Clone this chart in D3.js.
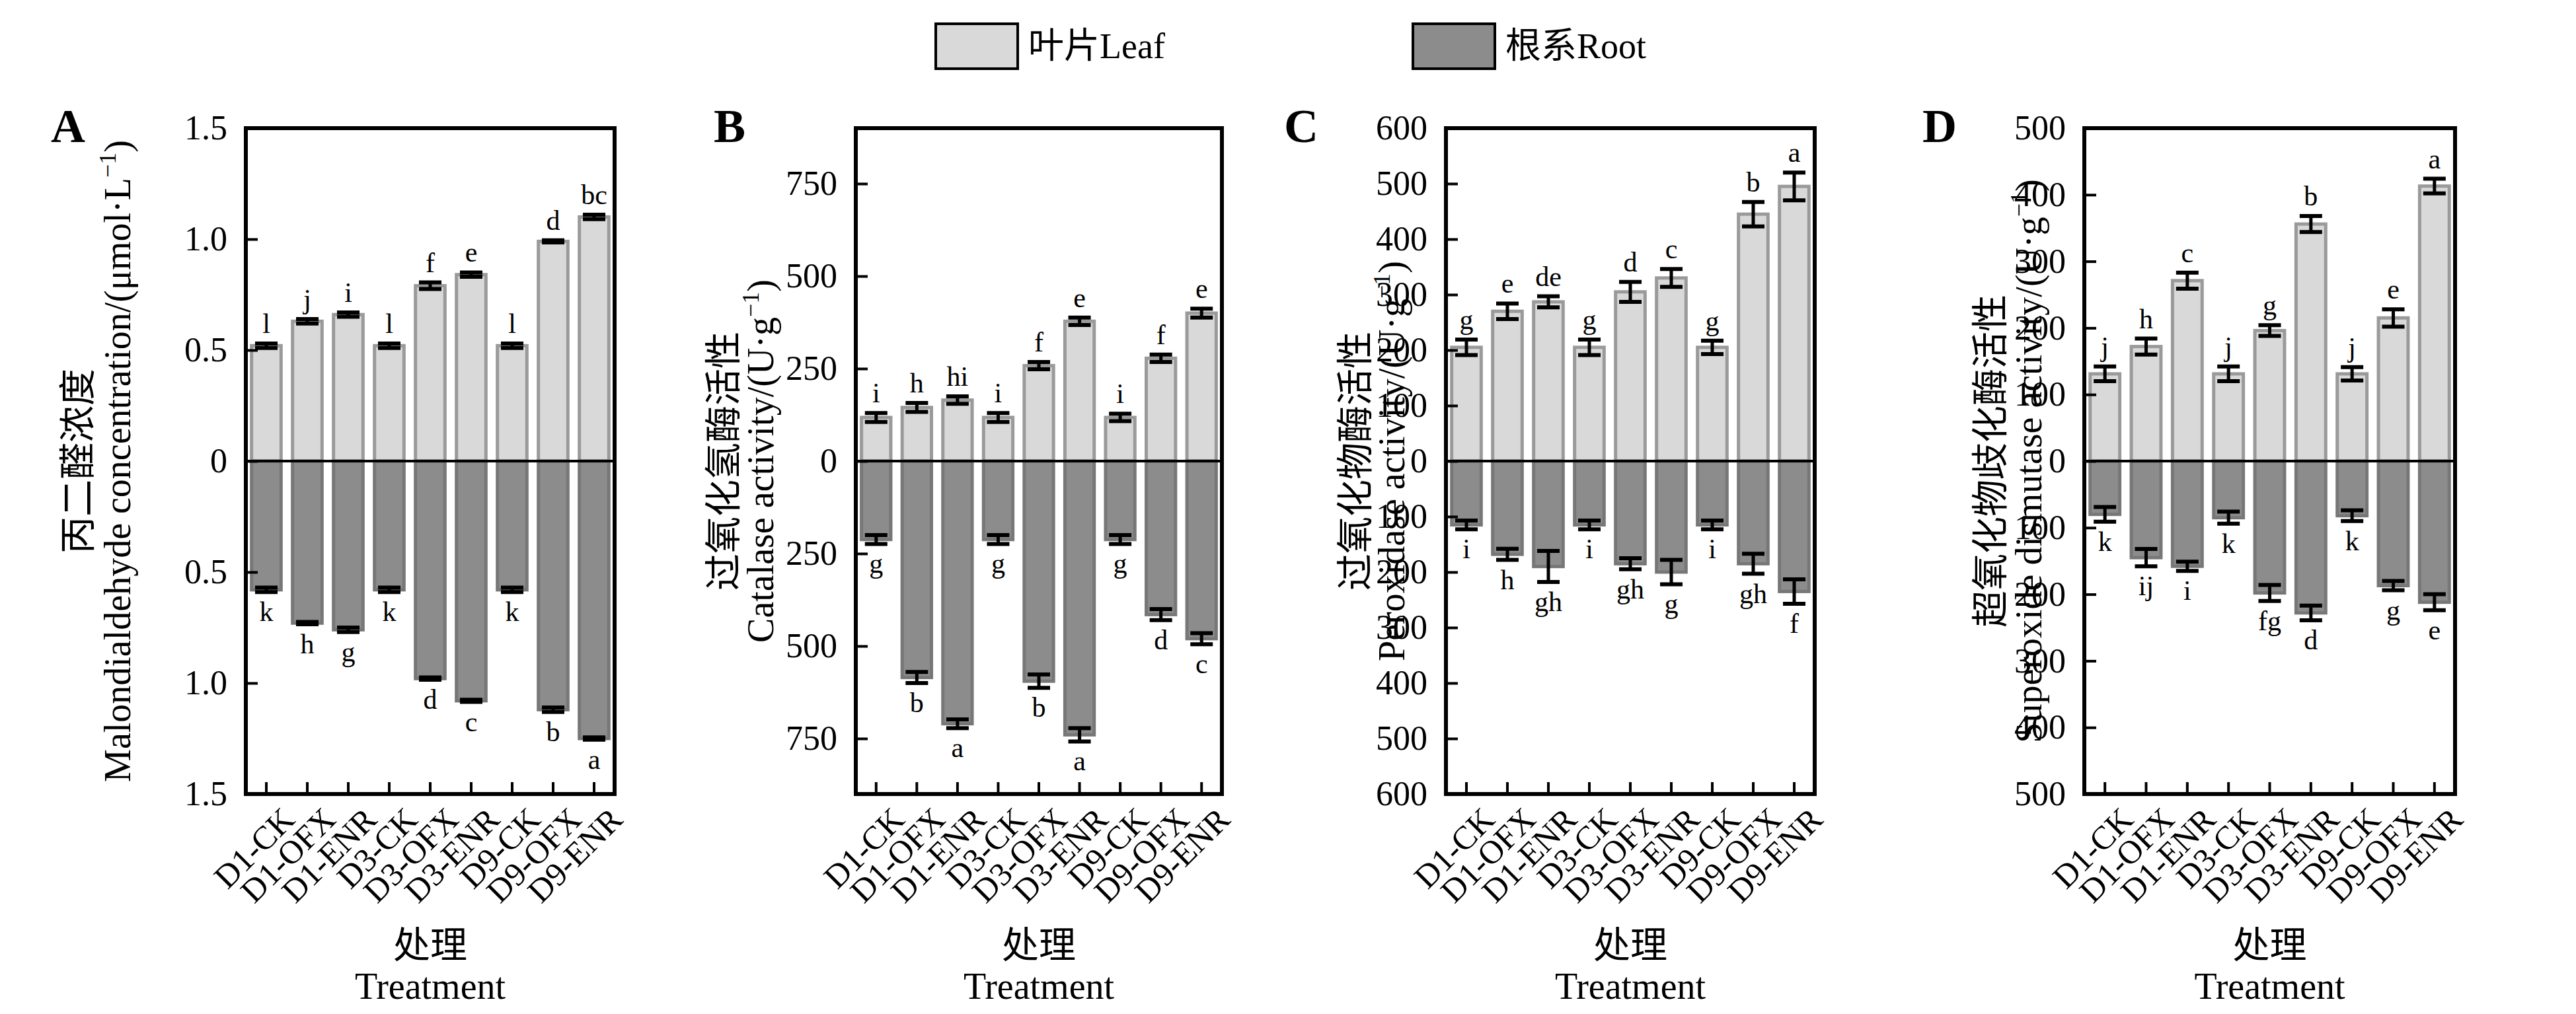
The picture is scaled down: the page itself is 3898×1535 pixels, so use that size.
<!DOCTYPE html><html><head><meta charset="utf-8">
<script src="https://cdn.jsdelivr.net/npm/d3@7"></script>
<style>body{margin:0;background:#fff}text{font-family:"Liberation Serif","Noto Sans CJK SC",serif}</style></head><body>
<svg id="c" width="3898" height="1535"></svg>
<script>
const categories=["D1-CK","D1-OFX","D1-ENR","D3-CK","D3-OFX","D3-ENR","D9-CK","D9-OFX","D9-ENR"];
const aLeaf=[0.52,0.63,0.66,0.52,0.79,0.84,0.52,0.99,1.10], aLeafErr=[0.01,0.01,0.01,0.01,0.015,0.01,0.01,0.005,0.01];
const aRoot=[0.58,0.73,0.76,0.58,0.98,1.08,0.58,1.12,1.25], aRootErr=[0.01,0.005,0.01,0.01,0.005,0.005,0.01,0.01,0.005];
const aLeafLab=["l","j","i","l","f","e","l","d","bc"], aRootLab=["k","h","g","k","d","c","k","b","a"];
const bLeaf=[118,145,165,118,258,378,118,278,400], bLeafErr=[12,12,10,12,10,10,10,10,12];
const bRoot=[212,585,710,212,595,740,212,415,480], bRootErr=[12,15,12,12,18,18,12,15,15];
const bLeafLab=["i","h","hi","i","f","e","i","f","e"], bRootLab=["g","b","a","g","b","a","g","d","c"];
const cLeaf=[205,270,287,205,305,330,205,445,495], cLeafErr=[14,14,10,14,18,16,12,22,25];
const cRoot=[115,168,190,115,185,200,115,185,235], cRootErr=[8,10,28,8,10,22,8,18,22];
const cLeafLab=["g","e","de","g","d","c","g","b","a"], cRootLab=["i","h","gh","i","gh","g","i","gh","f"];
const dLeaf=[131,172,271,131,196,356,131,215,413], dLeafErr=[11,12,12,11,8,12,10,13,11];
const dRoot=[80,145,158,85,198,228,82,187,212], dRootErr=[11,13,7,9,12,11,8,7,12];
const dLeafLab=["j","h","c","j","g","b","j","e","a"], dRootLab=["k","ij","i","k","fg","d","k","g","e"];
const panels=[
 {id:"A",x0:372,x1:930,max:1.5,tv:[1.5,1,0.5,0,-0.5,-1,-1.5],fmt:d=>d===0?"0":Math.abs(d).toFixed(1),leaf:aLeaf,le:aLeafErr,root:aRoot,re:aRootErr,ll:aLeafLab,rl:aRootLab,zh:"丙二醛浓度",en:"Malondialdehyde concentration/(μmol·L",sup:"−1",t1:235,t2:175,lx:295},
 {id:"B",x0:1295,x1:1849,max:900,tv:[750,500,250,0,-250,-500,-750],fmt:d=>String(Math.abs(d)),leaf:bLeaf,le:bLeafErr,root:bRoot,re:bRootErr,ll:bLeafLab,rl:bRootLab,zh:"过氧化氢酶活性",en:"Catalase activity/(U·g",sup:"−1",t1:181,t2:125,lx:215},
 {id:"C",x0:2188,x1:2746,max:600,tv:[600,500,400,300,200,100,0,-100,-200,-300,-400,-500,-600],fmt:d=>String(Math.abs(d)),leaf:cLeaf,le:cLeafErr,root:cRoot,re:cRootErr,ll:cLeafLab,rl:cRootLab,zh:"过氧化物酶活性",en:"Peroxidase activity/(U·g",sup:"−1",t1:118,t2:63,lx:245},
 {id:"D",x0:3154,x1:3715,max:500,tv:[500,400,300,200,100,0,-100,-200,-300,-400,-500],fmt:d=>String(Math.abs(d)),leaf:dLeaf,le:dLeafErr,root:dRoot,re:dRootErr,ll:dLeafLab,rl:dRootLab,zh:"超氧化物歧化酶活性",en:"Superoxide dismutase activity/(U·g",sup:"−1",t1:123,t2:65,lx:245}
];
const svg=d3.select("#c"), yTop=194, yBot=1202;
panels.forEach(p=>{
 const g=svg.append("g");
 const x=d3.scaleBand().domain(categories).range([p.x0,p.x1]).paddingInner(0.28).paddingOuter(0.14);
 const y=d3.scaleLinear().domain([-p.max,p.max]).range([yBot,yTop]);
 const bw=x.bandwidth();
 categories.forEach((c,i)=>{
  const cx=x(c)+bw/2;
  g.append("rect").attr("x",x(c)).attr("width",bw).attr("y",y(p.leaf[i])).attr("height",y(0)-y(p.leaf[i])).attr("fill","#d9d9d9").attr("stroke","#9a9a9a").attr("stroke-width",5);
  g.append("rect").attr("x",x(c)).attr("width",bw).attr("y",y(0)).attr("height",y(-p.root[i])-y(0)).attr("fill","#8c8c8c").attr("stroke","#777").attr("stroke-width",5);
  const eb=(v,e)=>{const a=y(v+e),b=y(v-e);
   g.append("line").attr("x1",cx).attr("x2",cx).attr("y1",a).attr("y2",b).attr("stroke","#000").attr("stroke-width",5);
   [a,b].forEach(yy=>g.append("line").attr("x1",cx-17).attr("x2",cx+17).attr("y1",yy).attr("y2",yy).attr("stroke","#000").attr("stroke-width",6));};
  eb(p.leaf[i],p.le[i]); eb(-p.root[i],p.re[i]);
  g.append("text").attr("x",cx).attr("y",y(p.leaf[i]+p.le[i])-16).attr("text-anchor","middle").attr("font-size",42).text(p.ll[i]);
  g.append("text").attr("x",cx).attr("y",y(-p.root[i]-p.re[i])+44).attr("text-anchor","middle").attr("font-size",42).text(p.rl[i]);
 });
 g.append("line").attr("x1",p.x0).attr("x2",p.x1).attr("y1",y(0)).attr("y2",y(0)).attr("stroke","#000").attr("stroke-width",4);
 const ya=d3.axisLeft(y).tickValues(p.tv).tickFormat(p.fmt).tickSize(-18).tickPadding(28);
 const ay=g.append("g").attr("transform",`translate(${p.x0},0)`).call(ya);
 ay.select(".domain").remove();
 ay.selectAll("line").attr("stroke-width",4);
 ay.selectAll("text").attr("font-size",52).attr("font-family","Liberation Serif");
 const xa=d3.axisBottom(x).tickSize(-18).tickPadding(24);
 const ax=g.append("g").attr("transform",`translate(0,${yBot})`).call(xa);
 ax.select(".domain").remove();
 ax.selectAll("line").attr("stroke-width",4);
 ax.selectAll("text").attr("font-size",50).attr("font-family","Liberation Serif").attr("text-anchor","end").attr("dy","0.3em").attr("transform","translate(18,14) rotate(-45)");
 g.append("rect").attr("x",p.x0).attr("y",yTop).attr("width",p.x1-p.x0).attr("height",yBot-yTop).attr("fill","none").attr("stroke","#000").attr("stroke-width",6);
 g.append("text").attr("x",p.x0-p.lx).attr("y",215).attr("font-size",72).attr("font-weight","bold").text(p.id);
 const cy=(yTop+yBot)/2, mx=(p.x0+p.x1)/2;
 g.append("text").attr("transform",`translate(${p.x0-p.t1},${cy}) rotate(-90)`).attr("text-anchor","middle").attr("font-size",56).text(p.zh);
 const t=g.append("text").attr("transform",`translate(${p.x0-p.t2},${cy}) rotate(-90)`).attr("text-anchor","middle").attr("font-size",56);
 t.append("tspan").text(p.en); t.append("tspan").attr("font-size",36).attr("dy",-22).text(p.sup); t.append("tspan").attr("dy",22).text(")");
 g.append("text").attr("x",mx).attr("y",1450).attr("text-anchor","middle").attr("font-size",56).text("处理");
 g.append("text").attr("x",mx).attr("y",1512).attr("text-anchor","middle").attr("font-size",56).text("Treatment");
});
[["叶片Leaf","#d9d9d9",1416],["根系Root","#8c8c8c",2138]].forEach(([t,f,lx])=>{
 svg.append("rect").attr("x",lx).attr("y",36).attr("width",124).attr("height",68).attr("fill",f).attr("stroke","#000").attr("stroke-width",4);
 svg.append("text").attr("x",lx+140).attr("y",88).attr("font-size",54).text(t);
});
</script></body></html>
